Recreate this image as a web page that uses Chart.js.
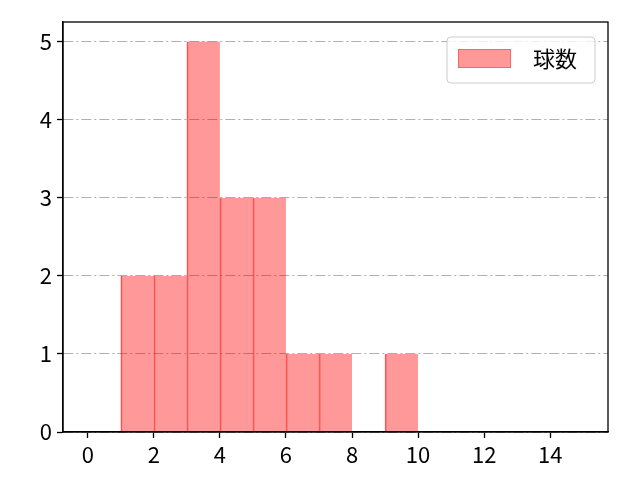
<!DOCTYPE html>
<html>
<head>
<meta charset="utf-8">
<script src="https://cdn.jsdelivr.net/npm/chart.js@4"></script>
<style>
  html, body { margin: 0; padding: 0; background: #fff; }
</style>
</head>
<body>
<canvas id="hist-chart" width="640" height="480"></canvas>
<script>
// histogram bins (width 1) and counts
const binStarts = [1, 2, 3, 4, 5, 6, 7, 8, 9]
const counts = [2, 2, 5, 3, 3, 1, 1, 0, 1]
const seriesLabel = "球数"

const xTicks = [0, 2, 4, 6, 8, 10, 12, 14]
const yTicks = [0, 1, 2, 3, 4, 5]

const FONT = "'Noto Sans CJK JP', 'Noto Sans', sans-serif"

const frame = {
    id: "frame",
    afterDraw(chart) {
        const { ctx, chartArea: a } = chart
        ctx.save()
        ctx.strokeStyle = "#000"
        ctx.lineWidth = 1.3
        ctx.strokeRect(a.left, a.top, a.right - a.left, a.bottom - a.top)
        ctx.restore()
    }
}

// legend box inside the plot, top right
const innerLegend = {
    id: "innerLegend",
    afterDraw(chart) {
        const { ctx, chartArea: a } = chart
        const ds = chart.data.datasets[0]
        const w = 148, h = 46
        const x = a.right - 13 - w
        const y = a.top + 15
        ctx.save()
        ctx.beginPath()
        ctx.roundRect(x, y, w, h, 4)
        ctx.fillStyle = "rgba(255,255,255,0.8)"
        ctx.fill()
        ctx.strokeStyle = "#cccccc"
        ctx.lineWidth = 1
        ctx.stroke()
        ctx.fillStyle = ds.backgroundColor
        ctx.fillRect(x + 11, y + 12, 53, 19)
        ctx.strokeStyle = "rgba(255, 0, 0, 0.35)"
        ctx.strokeRect(x + 11.5, y + 12.5, 52, 18)
        ctx.fillStyle = "#000"
        ctx.font = "22px " + FONT
        ctx.textBaseline = "middle"
        ctx.fillText(ds.label, x + 86, y + 22)
        ctx.restore()
    }
}

const ctx = document.getElementById("hist-chart").getContext("2d")
new Chart(ctx, {
    type: "bar",
    data: {
        datasets: [{
            label: seriesLabel,
            data: binStarts.map((b, i) => ({ x: b + 0.5, y: counts[i] })),
            backgroundColor: "rgba(255, 0, 0, 0.4)",
            borderColor: "rgba(255, 0, 0, 0.62)",
            borderWidth: { left: 1, right: 0, top: 0, bottom: 0 },
            borderSkipped: false,
            barPercentage: 1,
            categoryPercentage: 1,
        }]
    },
    options: {
        responsive: false,
        animation: false,
        devicePixelRatio: 1,
        layout: { padding: { top: 22, right: 32, left: 0, bottom: 0 } },
        plugins: {
            legend: { display: false },
            tooltip: { enabled: false }
        },
        scales: {
            x: {
                type: "linear",
                offset: false,
                min: -0.75,
                max: 15.75,
                afterBuildTicks: (s) => { s.ticks = xTicks.map(v => ({ value: v })) },
                afterFit: (s) => { s.height = 48 },
                grid: { offset: false, drawOnChartArea: false, tickLength: 6, tickColor: "#000", tickWidth: 1.3 },
                border: { color: "#000", width: 1.3 },
                ticks: { color: "#000", padding: 3, maxRotation: 0, font: { family: FONT, size: 22 } }
            },
            y: {
                min: 0,
                max: 5.25,
                afterBuildTicks: (s) => { s.ticks = yTicks.map(v => ({ value: v })) },
                afterFit: (s) => { s.width = 63 },
                grid: {
                    color: "#b0b0b0",
                    lineWidth: 1,
                    tickLength: 6,
                    tickColor: "#000",
                    tickWidth: 1.3,
                    tickBorderDash: []
                },
                border: { color: "#000", width: 1.3, dash: [10, 3, 2, 3] },
                ticks: { color: "#000", padding: 5, font: { family: FONT, size: 22 } }
            }
        }
    },
    plugins: [frame, innerLegend]
})
</script>
</body>
</html>
